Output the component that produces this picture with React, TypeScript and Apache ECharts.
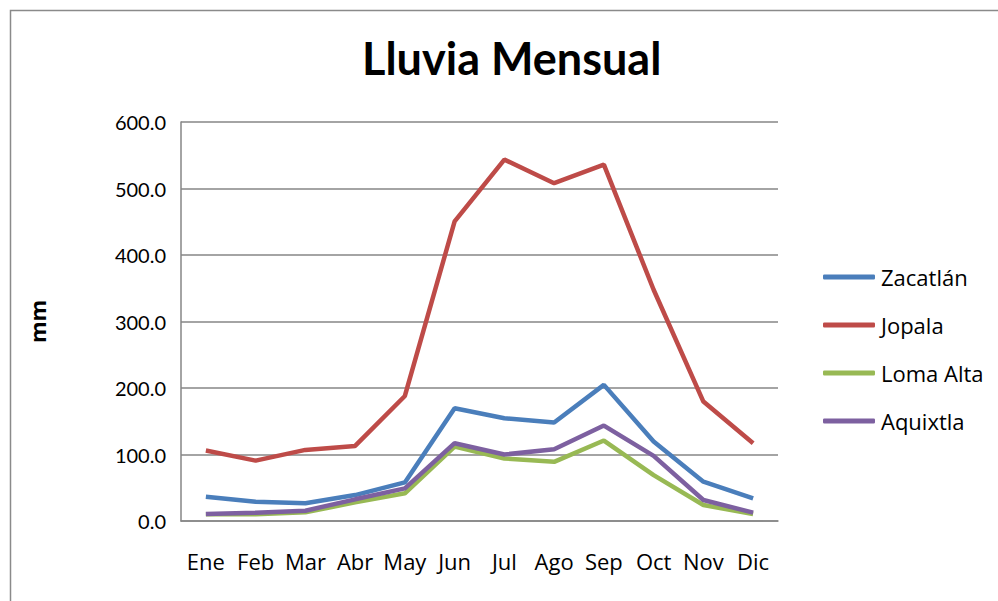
import React, { useEffect, useRef } from "react";
import * as echarts from "echarts";

const months = ["Ene", "Feb", "Mar", "Abr", "May", "Jun", "Jul", "Ago", "Sep", "Oct", "Nov", "Dic"];
const zacatlan = [36.6, 29, 26.6, 39, 58, 169.6, 154.5, 148, 204.7, 119.4, 59.2, 34.1];
const jopala = [105.9, 90.8, 106.9, 112.9, 188, 450.6, 543.4, 508, 535.9, 347.7, 179.6, 116.9];
const lomaAlta = [10, 10, 13, 28, 41.6, 112, 94, 89, 121, 69, 24, 10.5];
const aquixtla = [10.5, 12.5, 15.5, 32.6, 49, 117, 100, 108, 143.5, 98, 31.6, 12.5];
const seriesNames = ["Zacatlán", "Jopala", "Loma Alta", "Aquixtla"];
const colors = ["#4A7EBB", "#BE4B48", "#98B954", "#7D60A0"];

const TITLE_FONT = "Lato, 'Liberation Sans', sans-serif";
const FONT = "'Open Sans', Lato, 'Liberation Sans', sans-serif";

export default function App() {
  const ref = useRef<HTMLDivElement>(null);
  useEffect(() => {
    if (!ref.current) return;
    const chart = echarts.init(ref.current, undefined, { renderer: "svg" });
    const dataSets = [zacatlan, jopala, lomaAlta, aquixtla];
    chart.setOption({
      animation: false,
      backgroundColor: "#ffffff",
      title: {
        text: "Lluvia Mensual",
        left: 362,
        top: 35,
        padding: 0,
        textStyle: { fontFamily: TITLE_FONT, fontSize: 45, fontWeight: "bold", color: "#000" },
      },
      graphic: [
        {
          type: "rect",
          shape: { x: 10.5, y: 10.5, width: 1000, height: 600 },
          style: { fill: "none", stroke: "#8a8a8a", lineWidth: 1.5 },
          silent: true,
        },
      ],
      legend: {
        orient: "vertical",
        left: 818,
        top: 261,
        itemWidth: 52,
        itemHeight: 5,
        itemGap: 26,
        icon: "roundRect",
        data: seriesNames,
        textStyle: { fontFamily: FONT, fontSize: 22, color: "#000", padding: [0, 0, 0, 1] },
      },
      grid: { left: 181, right: 220, top: 122, bottom: 80 },
      xAxis: {
        type: "category",
        data: months,
        boundaryGap: true,
        axisLine: { lineStyle: { color: "#868686", width: 1.5 } },
        axisTick: { show: false },
        axisLabel: { fontFamily: FONT, fontSize: 22, color: "#000", margin: 29, interval: 0 },
      },
      yAxis: {
        type: "value",
        min: 0,
        max: 600,
        interval: 100,
        name: "mm",
        nameLocation: "middle",
        nameRotate: 90,
        nameGap: 133,
        nameTextStyle: { fontFamily: FONT, fontSize: 22, fontWeight: "bold", color: "#000" },
        axisLine: { show: true, lineStyle: { color: "#868686", width: 1.5 } },
        axisTick: { show: false },
        splitLine: { lineStyle: { color: "#868686", width: 1.5 } },
        axisLabel: {
          fontFamily: TITLE_FONT,
          fontSize: 20,
          color: "#000",
          margin: 15,
          formatter: (v: number) => v.toFixed(1),
        },
      },
      series: seriesNames.map((n, i) => ({
        name: n,
        type: "line",
        data: dataSets[i],
        symbol: "none",
        color: colors[i],
        lineStyle: { color: colors[i], width: 4.5 },
      })),
    });
    return () => chart.dispose();
  }, []);
  return <div ref={ref} style={{ position: "fixed", left: 0, top: 0, width: 998, height: 601 }} />;
}
